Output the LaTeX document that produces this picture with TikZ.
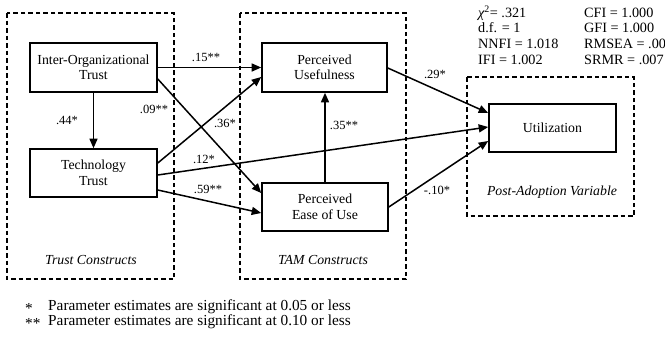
\documentclass[tikz,border=0pt]{standalone}
\usepackage{fontspec}
\setmainfont{Liberation Serif}
\usetikzlibrary{arrows.meta}
\tikzset{
  box/.style={draw, line width=1.6pt, align=center, inner sep=0pt},
  group/.style={draw, line width=1.5pt, dash pattern=on 4.5pt off 3pt},
  link/.style={line width=1.5pt, -{Triangle[length=9.5pt,width=8pt]}},
  coef/.style={inner sep=1pt, font=\fontsize{12.5}{14}\selectfont},
  txt/.style={inner sep=0pt, anchor=west},
  stat/.style={txt, font=\fontsize{14.2}{16}\selectfont},
  note/.style={txt, font=\fontsize{15.3}{17}\selectfont},
  grouplabel/.style={font=\fontsize{13.8}{15.5}\selectfont\itshape},
}
\begin{document}
\begin{tikzpicture}[x=1pt,y=-1pt, font=\fontsize{13.8}{15.5}\selectfont]
\useasboundingbox (0,0) rectangle (665,338);
% group boxes
\draw[group] (7,13) rectangle (174,279);
\draw[group] (240,13) rectangle (406,279);
\draw[group] (467,77) rectangle (634,216);
\node[grouplabel] (lblTrust) at (91,260) {Trust Constructs};
\node[grouplabel] (lblTam) at (323,260) {TAM Constructs};
\node[grouplabel] (lblPost) at (552,192) {Post-Adoption Variable};
% constructs
\node[box, minimum width=127pt, minimum height=49pt] (iot) at (93.5,67.5) {Inter-Organizational\\Trust};
\node[box, minimum width=127pt, minimum height=48pt] (tt) at (93.5,173) {Technology\\Trust};
\node[box, minimum width=125pt, minimum height=49pt] (pu) at (324.5,67.5) {Perceived\\Usefulness};
\node[box, minimum width=126pt, minimum height=48pt] (peou) at (325,207) {Perceived\\Ease of Use};
\node[box, minimum width=127pt, minimum height=48pt] (util) at (552.5,128) {Utilization};
% paths
\draw[link] (iot.east) -- (pu.west);
\draw[link] (iot.south) -- (tt.north);
\draw[link] ([yshift=-11.5pt]iot.east) -- ([yshift=14pt]peou.west);
\draw[link] ([yshift=10pt]tt.east) -- ([yshift=-9.5pt]pu.west);
\draw[link] ([yshift=-2pt]tt.east) -- ([yshift=1pt]util.west);
\draw[link] ([yshift=-17pt]tt.east) -- ([yshift=-6pt]peou.west);
\draw[link] (peou.north) -- (peou.north |- pu.south);
\draw[link] ([yshift=-0.5pt]pu.east) -- ([yshift=15pt]util.west);
\draw[link] (peou.east) -- ([yshift=-13pt]util.west);
% coefficients
\node[coef] (c15) at (206,57) {.15**};
\node[coef] (c44) at (67,120) {.44*};
\node[coef] (c09) at (154,109) {.09**};
\node[coef] (c36) at (225,123) {.36*};
\node[coef] (c12) at (204,159) {.12*};
\node[coef] (c59) at (208,189) {.59**};
\node[coef] (c35) at (344,125) {.35**};
\node[coef] (c29) at (435,74) {.29*};
\node[coef] (c10) at (437,190) {-.10*};
% fit statistics
\node[stat] (s1) at (478,13) {{\itshape χ}\textsuperscript{2}= .321};
\node[stat] (s2) at (478,28) {d.f. = 1};
\node[stat] (s3) at (478,44) {NNFI = 1.018};
\node[stat] (s4) at (478,60) {IFI = 1.002};
\node[stat] (s5) at (584,13) {CFI = 1.000};
\node[stat] (s6) at (584,28) {GFI = 1.000};
\node[stat] (s7) at (584,44) {RMSEA = .00};
\node[stat] (s8) at (584,60) {SRMR = .007};
% notes
\node[note] (n1s) at (25,308) {*};
\node[note] (n1) at (48,307) {Parameter estimates are significant at 0.05 or less};
\node[note] (n2s) at (25,323) {**};
\node[note] (n2) at (48,322) {Parameter estimates are significant at 0.10 or less};
\end{tikzpicture}
\end{document}
